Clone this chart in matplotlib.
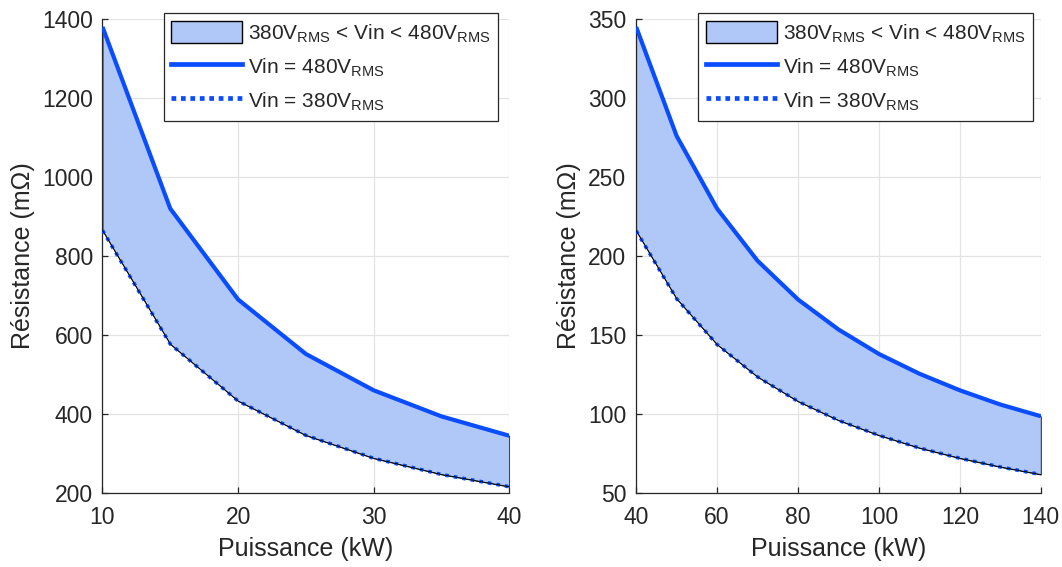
import numpy as np
import matplotlib
matplotlib.use("Agg")
import matplotlib.pyplot as plt
import matplotlib.patches as mpatches
from matplotlib.lines import Line2D

plt.rcParams["font.family"] = ["Liberation Sans", "DejaVu Sans"]
plt.rcParams["mathtext.fontset"] = "custom"
plt.rcParams["mathtext.rm"] = "Liberation Sans"

# left panel: 10..40 kW
p_low = [10, 15, 20, 25, 30, 35, 40]
r480_low = [1380, 920, 690, 552, 460, 394, 345]
r380_low = [865, 577, 433, 346, 288, 247, 216]

# right panel: 40..140 kW
p_high = [40, 50, 60, 70, 80, 90, 100, 110, 120, 130, 140]
r480_high = [345, 276, 230, 197, 172.5, 153.5, 138, 125.5, 115, 106, 98.6]
r380_high = [216, 173, 144, 123.5, 108, 96, 86.5, 78.5, 72, 66.5, 61.7]

yticks_low = [200, 400, 600, 800, 1000, 1200, 1400]
xticks_low = [10, 20, 30, 40]
yticks_high = [50, 100, 150, 200, 250, 300, 350]
xticks_high = [40, 60, 80, 100, 120, 140]

LINE = "#0a4cff"
FILL = "#b0c8f8"
DARK = "#262626"

LBL_BAND = r"380V$_{\mathrm{RMS}}$ < Vin < 480V$_{\mathrm{RMS}}$"
LBL_480 = r"Vin = 480V$_{\mathrm{RMS}}$"
LBL_380 = r"Vin = 380V$_{\mathrm{RMS}}$"


def draw_panel(ax, p, r_hi, r_lo, xticks, yticks, leg_x):
    ax.fill_between(p, r_lo, r_hi, facecolor=FILL, edgecolor="black",
                    linewidth=0.6, zorder=2)
    ax.plot(p, r_hi, color=LINE, lw=3.0, solid_capstyle="butt", zorder=3)
    ax.plot(p, r_lo, color=LINE, lw=2.6, linestyle=(0, (1, 1.4)), zorder=3)
    ax.plot(p, r_lo, color="black", lw=0.6, zorder=4)

    ax.set_xlim(xticks[0], xticks[-1])
    ax.set_ylim(yticks[0], yticks[-1])
    ax.set_xticks(xticks)
    ax.set_yticks(yticks)
    ax.grid(True, color="#e3e3e3", lw=0.9, zorder=0)
    ax.set_axisbelow(True)
    for s in ["top", "right"]:
        ax.spines[s].set_visible(False)
    for s in ["left", "bottom"]:
        ax.spines[s].set_color(DARK)
        ax.spines[s].set_linewidth(0.9)
    ax.tick_params(direction="in", length=4, colors=DARK, labelsize=16.5,
                   width=0.9)
    ax.tick_params(axis="x", pad=9)
    ax.tick_params(axis="y", pad=7)
    ax.set_xlabel("Puissance (kW)", fontsize=18, color=DARK, labelpad=6)
    ax.set_ylabel("Résistance (mΩ)", fontsize=18, color=DARK, labelpad=5)

    handles = [
        mpatches.Patch(facecolor=FILL, edgecolor="black", linewidth=1.0),
        Line2D([], [], color=LINE, lw=3.4),
        Line2D([], [], color=LINE, lw=3.4, linestyle=(0, (1, 1))),
    ]
    leg = ax.legend(handles, [LBL_BAND, LBL_480, LBL_380], loc="upper right",
                    bbox_to_anchor=(leg_x, 1.012), fontsize=15,
                    frameon=True, fancybox=False, edgecolor=DARK,
                    framealpha=1, handlelength=3.4, handleheight=1.3,
                    borderpad=0.35, labelspacing=0.5, handletextpad=0.3,
                    borderaxespad=0)
    leg.get_frame().set_linewidth(0.9)
    for t in leg.get_texts():
        t.set_color(DARK)


fig = plt.figure(figsize=(10.62, 5.67), dpi=100)
ax1 = fig.add_axes([0.0965, 0.1305, 0.383, 0.836])
ax2 = fig.add_axes([0.599, 0.1305, 0.381, 0.836])

draw_panel(ax1, p_low, r480_low, r380_low, xticks_low, yticks_low, 0.973)
draw_panel(ax2, p_high, r480_high, r380_high, xticks_high, yticks_high, 0.98)

fig.savefig("out.png", dpi=100)
